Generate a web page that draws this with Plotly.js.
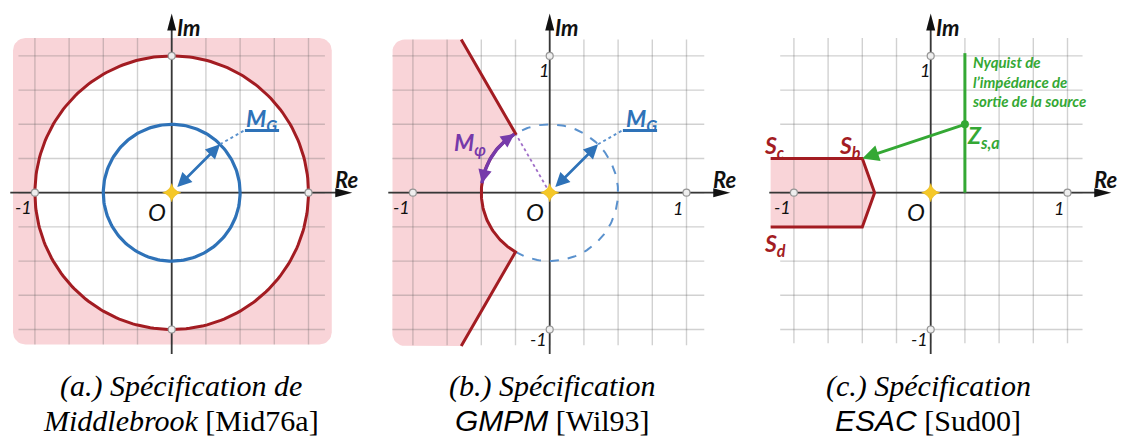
<!DOCTYPE html>
<html>
<head>
<meta charset="utf-8">
<script src="https://cdn.plot.ly/plotly-3.0.1.min.js"></script>
<style>html,body{margin:0;padding:0;background:#fff;}#chart{width:1122px;height:442px;}</style>
</head>
<body>
<div id="chart"></div>
<script>
// ---------------- DATA ----------------
const captionLine1 = ['(a.) Spécification de', '(b.) Spécification', '(c.) Spécification'];
const captionName = ['Middlebrook', 'GMPM', 'ESAC'];
const captionRef = ['[Mid76a]', '[Wil93]', '[Sud00]'];
const gridValues = [-1, -0.75, -0.5, -0.25, 0, 0.25, 0.5, 0.75, 1];
const unitTicks = [-1, 1];
// (a) Middlebrook
const forbiddenRadiusA = 1;          // red circle
const gainMarginRadiusA = 0.5;       // blue circle
const regionA_x = [-1.16, 1.17];
const regionA_y = [-1.11, 1.13];
// (b) GMPM
const gainMarginRadiusB = 0.5;
const phaseMarginDegB = 60;
const regionB_left = -1.15;
const regionB_y = [-1.12, 1.12];
const phaseArcDegB = [121, 172];
// (c) ESAC
const esacBoundaryX = [-1.17, -0.5, -0.41, -0.5, -1.17];
const esacBoundaryY = [0.25, 0.25, 0, -0.25, -0.25];
const sourceNyquistX = [0.25, 0.25];
const sourceNyquistY = [0, 1.02];
const zsaPoint = [0.25, 0.5];
const sbPoint = [-0.5, 0.25];

// ---------------- GEOMETRY (layout) ----------------
const W = 1122, H = 442;
const U = 136.8;                    // pixels per unit
const plotBottomPx = 360, originYPx = 192.7;
const originXPx = [171.7, 549.7, 930.7];
const panelEdgesPx = [[0, 374], [374, 748], [748, 1122]];
const gridExtents = [[-1.12, 1.12, -1.11, 1.13], [-1.15, 1.13, -1.115, 1.12], [-1.10, 1.11, -1.10, 1.13]];
const axisExtent = {x0: -1.18, x1: 1.32, y0: -1.18, y1: 1.31};

// colours
const PINK = 'rgb(249,212,216)';
const GRID = 'rgba(90,90,90,0.28)';
const AXIS = 'rgb(55,55,55)';
const RED = 'rgb(163,28,34)';
const BLUE = 'rgb(46,114,184)';
const BLUE_L = 'rgb(90,145,205)';
const PURPLE = 'rgb(118,58,170)';
const GREEN = 'rgb(52,168,52)';

function arc(r, d0, d1, n) {
  const xs = [], ys = [];
  for (let i = 0; i <= n; i++) {
    const t = (d0 + (d1 - d0) * i / n) * Math.PI / 180;
    xs.push(r * Math.cos(t)); ys.push(r * Math.sin(t));
  }
  return [xs, ys];
}
function corner(cx, cy, r, d0, d1, xs, ys) {
  const [a, b] = arc(r, d0, d1, 8);
  a.forEach((v, i) => { xs.push(cx + v); ys.push(cy + b[i]); });
}

const traces = [];
const annotations = [];
const shapes = [];

function ax(i) { return i === 0 ? ['x', 'y'] : ['x' + (i + 1), 'y' + (i + 1)]; }
function line(i, xs, ys, color, width, dash, extra) {
  const [xa, ya] = ax(i);
  traces.push(Object.assign({type: 'scatter', mode: 'lines', x: xs, y: ys, xaxis: xa, yaxis: ya,
    line: {color: color, width: width, dash: dash || 'solid'}, hoverinfo: 'skip', showlegend: false}, extra || {}));
}
function fillPoly(i, xs, ys, color) {
  line(i, xs, ys, 'rgba(0,0,0,0)', 0, 'solid', {fill: 'toself', fillcolor: color});
}
function grid(i) {
  const [gx0, gx1, gy0, gy1] = gridExtents[i];
  const xs = [], ys = [];
  gridValues.forEach(v => { xs.push(v, v, null); ys.push(gy0, gy1, null); });
  gridValues.forEach(v => { xs.push(gx0, gx1, null); ys.push(v, v, null); });
  line(i, xs, ys, GRID, 1.4);
}
function axes(i) {
  line(i, [axisExtent.x0, axisExtent.x1 - 0.05, null, 0, 0], [0, 0, null, axisExtent.y0, axisExtent.y1 - 0.05], AXIS, 1.8);
  const [xa, ya] = ax(i);
  shapes.push({type: 'path', xref: xa, yref: ya, xsizemode: 'pixel', ysizemode: 'pixel',
    xanchor: axisExtent.x1, yanchor: 0, path: 'M0,0 L-17,-4.5 L-17,4.5 Z', fillcolor: '#111', line: {width: 0}});
  shapes.push({type: 'path', xref: xa, yref: ya, xsizemode: 'pixel', ysizemode: 'pixel',
    xanchor: 0, yanchor: axisExtent.y1, path: 'M0,0 L-4.5,-17 L4.5,-17 Z', fillcolor: '#111', line: {width: 0}});
}
function markers(i) {
  const [xa, ya] = ax(i);
  traces.push({type: 'scatter', mode: 'markers', xaxis: xa, yaxis: ya,
    x: unitTicks.concat([0, 0]), y: [0, 0].concat(unitTicks), hoverinfo: 'skip', showlegend: false,
    marker: {symbol: 'circle', size: 7, color: 'rgb(238,238,238)', line: {color: 'rgb(150,150,150)', width: 1.2}}});
  traces.push({type: 'scatter', mode: 'markers', xaxis: xa, yaxis: ya, x: [0], y: [0], hoverinfo: 'skip', showlegend: false,
    marker: {symbol: 'star-diamond', size: 13, color: 'rgb(245,200,40)', line: {color: 'rgb(230,180,20)', width: 0.5}}});
}
function label(i, x, y, text, opts) {
  const [xa, ya] = ax(i);
  const o = opts || {};
  annotations.push({xref: xa, yref: ya, x: x, y: y, text: text, showarrow: false,
    xanchor: o.xanchor || 'center', yanchor: o.yanchor || 'middle', align: o.align || 'center',
    font: {family: 'Lato, sans-serif', size: o.size || 20, color: o.color || '#111',
      weight: o.weight || 'normal', style: o.style || 'italic'}});
}
function arrowAnn(i, x0, y0, x1, y1, color, width, size, side) {
  const [xa, ya] = ax(i);
  annotations.push({xref: xa, yref: ya, axref: xa, ayref: ya, x: x1, y: y1, ax: x0, ay: y0, text: '',
    showarrow: true, arrowhead: 2, arrowsize: size, arrowwidth: width, arrowcolor: color,
    arrowside: side || 'end', standoff: 0, startstandoff: 0});
}
function axisLabels(i, showXPos, showY) {
  label(i, 0.125, 1.21, 'Im', {weight: 'bold', size: 22});
  label(i, 1.28, 0.10, 'Re', {weight: 'bold', size: 22});
  label(i, -1.085, -0.105, '-1', {size: 18});
  if (showXPos) label(i, 0.935, -0.11, '1', {size: 18});
  if (showY) { label(i, -0.04, 0.9, '1', {size: 18}); label(i, -0.085, -1.07, '-1', {size: 18}); }
  label(i, -0.11, -0.14, 'O', {size: 24});
}
function gainMarker(i, r, textX) {
  const c = Math.SQRT1_2 * r;
  arrowAnn(i, 0.03, 0.03, c, c, BLUE, 2.6, 1.1, 'end+start');
  line(i, [c, 0.53], [c, 0.455], BLUE_L, 1.8, 'dot');
  line(i, [0.535, 0.785], [0.455, 0.455], BLUE, 3);
  label(i, textX, 0.535, 'M<sub>G</sub>', {weight: 'bold', size: 23, color: BLUE});
}

// ---------- Panel (a) ----------
(function () {
  const i = 0, r = 0.09;
  const [x0, x1] = regionA_x, [y0, y1] = regionA_y;
  const xs = [], ys = [];
  corner(x1 - r, y1 - r, r, 0, 90, xs, ys);
  corner(x0 + r, y1 - r, r, 90, 180, xs, ys);
  corner(x0 + r, y0 + r, r, 180, 270, xs, ys);
  corner(x1 - r, y0 + r, r, 270, 360, xs, ys);
  fillPoly(i, xs, ys, PINK);
  const [cx, cy] = arc(forbiddenRadiusA, 0, 360, 240);
  fillPoly(i, cx, cy, '#ffffff');
  grid(i);
  axes(i);
  line(i, cx, cy, RED, 3);
  const [bx, by] = arc(gainMarginRadiusA, 0, 360, 180);
  line(i, bx, by, BLUE, 3.2);
  gainMarker(i, gainMarginRadiusA, 0.66);
  markers(i);
  axisLabels(i, false, false);
})();

// ---------- Panel (b) ----------
(function () {
  const i = 1, r = 0.09;
  const th = 180 - phaseMarginDegB;                // 120°
  const t = th * Math.PI / 180;
  const [yb, yt] = regionB_y;
  const xTop = yt / Math.sin(t) * Math.cos(t);     // radial line hits top edge
  const [ax_, ay_] = arc(gainMarginRadiusB, th, 360 - th, 120);
  const bx = [xTop].concat(ax_, [xTop]);
  const by = [yt].concat(ay_, [yb]);
  const xs = bx.slice(), ys = by.slice();
  corner(regionB_left + r, yb + r, r, 270, 180, xs, ys);
  corner(regionB_left + r, yt - r, r, 180, 90, xs, ys);
  fillPoly(i, xs, ys, PINK);
  grid(i);
  axes(i);
  const [dx, dy] = arc(gainMarginRadiusB, -th, th, 160);
  line(i, dx, dy, BLUE_L, 2, 'dash');
  line(i, [0, ax_[0]], [0, ay_[0]], 'rgb(160,110,200)', 1.8, 'dot');
  line(i, bx, by, RED, 3);
  const [px, py] = arc(gainMarginRadiusB, phaseArcDegB[0], phaseArcDegB[1], 60);
  line(i, px, py, PURPLE, 3.5);
  const R = gainMarginRadiusB, d = Math.PI / 180;
  arrowAnn(i, R * Math.cos(130 * d), R * Math.sin(130 * d), R * Math.cos(phaseArcDegB[0] * d), R * Math.sin(phaseArcDegB[0] * d), PURPLE, 3, 0.9);
  arrowAnn(i, R * Math.cos(162 * d), R * Math.sin(162 * d), R * Math.cos(phaseArcDegB[1] * d), R * Math.sin(phaseArcDegB[1] * d), PURPLE, 3, 0.9);
  gainMarker(i, gainMarginRadiusB, 0.67);
  label(i, -0.585, 0.36, 'M<sub>φ</sub>', {weight: 'bold', size: 23, color: PURPLE});
  markers(i);
  axisLabels(i, true, true);
})();

// ---------- Panel (c) ----------
(function () {
  const i = 2;
  fillPoly(i, esacBoundaryX, esacBoundaryY, PINK);
  grid(i);
  axes(i);
  line(i, esacBoundaryX, esacBoundaryY, RED, 3);
  line(i, sourceNyquistX, sourceNyquistY, GREEN, 3);
  arrowAnn(i, zsaPoint[0], zsaPoint[1], sbPoint[0], sbPoint[1], GREEN, 3, 1.1);
  const [xa, ya] = ax(i);
  traces.push({type: 'scatter', mode: 'markers', x: [zsaPoint[0]], y: [zsaPoint[1]], xaxis: xa, yaxis: ya,
    hoverinfo: 'skip', showlegend: false, marker: {size: 8, color: GREEN}});
  markers(i);
  axisLabels(i, true, true);
  label(i, -1.14, 0.335, 'S<sub>c</sub>', {weight: 'bold', size: 23, color: RED});
  label(i, -0.59, 0.335, 'S<sub>b</sub>', {weight: 'bold', size: 23, color: RED});
  label(i, -1.14, -0.38, 'S<sub>d</sub>', {weight: 'bold', size: 23, color: RED});
  label(i, 0.385, 0.41, 'Z<sub>s,a</sub>', {weight: 'bold', size: 23, color: GREEN});
  label(i, 0.29, 0.81, 'Nyquist de<br>l’impédance de<br>sortie de la source',
    {weight: 'bold', size: 15, color: GREEN, xanchor: 'left', align: 'left'});
})();

// ---------- Captions ----------
const captionCentersPx = [181, 552, 928];
const SERIF = 'Liberation Serif, serif';
captionLine1.forEach((t, k) => {
  const name = k === 0 ? '<i>' + captionName[k] + '</i>'
    : '<span style="font-family:Liberation Sans">' + '<i>' + captionName[k] + '</i></span>';
  annotations.push({xref: 'paper', yref: 'paper', x: captionCentersPx[k] / W, y: 1 - 386 / H,
    text: '<i>' + t + '</i>', showarrow: false, xanchor: 'center', yanchor: 'middle',
    font: {family: SERIF, size: 30, color: '#000'}});
  annotations.push({xref: 'paper', yref: 'paper', x: captionCentersPx[k] / W, y: 1 - 420 / H,
    text: name + ' ' + captionRef[k], showarrow: false, xanchor: 'center', yanchor: 'middle',
    font: {family: SERIF, size: 30, color: '#000'}});
});

// ---------- Layout ----------
const layout = {
  width: W, height: H, margin: {l: 0, r: 0, t: 0, b: 0}, autosize: false,
  paper_bgcolor: '#fff', plot_bgcolor: 'rgba(0,0,0,0)', showlegend: false, hovermode: false,
  annotations: annotations, shapes: shapes
};
for (let i = 0; i < 3; i++) {
  const [e0, e1] = panelEdgesPx[i];
  const sx = i === 0 ? '' : String(i + 1);
  layout['xaxis' + sx] = {domain: [e0 / W, e1 / W], range: [(e0 - originXPx[i]) / U, (e1 - originXPx[i]) / U],
    visible: false, fixedrange: true, anchor: 'y' + sx};
  layout['yaxis' + sx] = {domain: [1 - plotBottomPx / H, 1], range: [-(plotBottomPx - originYPx) / U, originYPx / U],
    visible: false, fixedrange: true, anchor: 'x' + sx};
}
Plotly.newPlot('chart', traces, layout, {staticPlot: true, displayModeBar: false});
</script>
</body>
</html>
